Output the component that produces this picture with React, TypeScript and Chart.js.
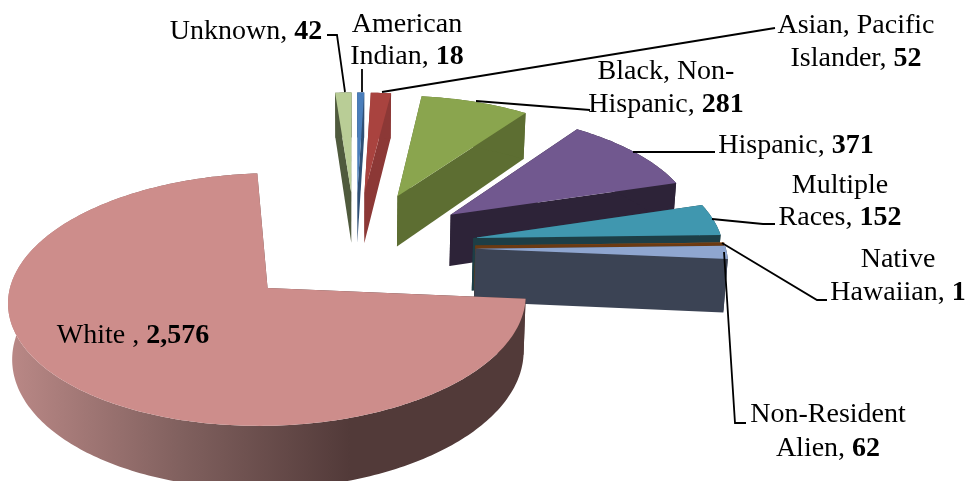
import React, { useEffect, useRef } from "react";
import { Chart, registerables } from "chart.js";

Chart.register(...registerables);

const categories = ["American Indian", "Asian, Pacific Islander", "Black, Non-Hispanic", "Hispanic", "Multiple Races", "Native Hawaiian", "Non-Resident Alien", "White", "Unknown"];
const values = [18, 52, 281, 371, 152, 1, 62, 2576, 42];
const topColors = ["#4A7EBB", "#A9433F", "#8AA54E", "#71588F", "#4097AF", "#C9702A", "#8FA6D0", "#CD8D8B", "#B9CD96"];
const sideColors = ["#2F4F75", "#8C3836", "#5D6E32", "#2D2338", "#1D3E46", "#6B3A12", "#3B4354", "#523A39", "#4F5A3D"];
const paintOrder = [8, 0, 1, 2, 3, 4, 5, 6, 7];

// text lines of each label; the value is appended in bold to the last line
const labelLines = [["American", "Indian, "], ["Asian, Pacific", "Islander, "], ["Black, Non-", "Hispanic, "], ["Hispanic, "], ["Multiple", "Races, "], ["Native", "Hawaiian, "], ["Non-Resident", "Alien, "], ["White , "], ["Unknown, "]];
const labelCenterX = [407, 856, 666, 796, 840, 898, 828, 133, 246];
const labelBaseY = [[32, 64], [33, 66], [79, 112], [153], [193, 225], [267, 300], [422, 456], [343], [39]];
const leaders: number[][][] = [
  [[362, 69], [362, 92]],
  [[382, 92], [775, 28]],
  [[476, 101], [590, 110]],
  [[633, 152], [715, 152]],
  [[712, 219], [763, 224], [775, 224]],
  [[722, 243], [817, 300], [827, 300]],
  [[724, 252], [735, 423], [746, 423]],
  [],
  [[327, 35], [337, 35], [345, 92]],
];

const FONT = '"Liberation Serif", "Times New Roman", serif';
const FONT_SIZE = 28;
const PIE = { x0: 355.5, y0: 247, a: 250, b: 118, persp: 0.088, depth: 53, depthPersp: 0.12, bottomShrink: 0.988, explode: 0.48 };

function project(mid: number, ang: number, r: number, bottom: boolean): [number, number] {
  const u = r * Math.sin(ang) + PIE.explode * Math.sin(mid);
  const v = r * Math.cos(ang) + PIE.explode * Math.cos(mid);
  const s = 1 / (1 + PIE.persp * v);
  const x = PIE.x0 + PIE.a * u * s * (bottom ? PIE.bottomShrink : 1);
  const y = PIE.y0 - PIE.b * v * s + (bottom ? PIE.depth / (1 + PIE.depthPersp * v) : 0);
  return [x, y];
}

function poly(ctx: CanvasRenderingContext2D, pts: [number, number][], fill: any) {
  ctx.beginPath();
  pts.forEach((p, i) => (i ? ctx.lineTo(p[0], p[1]) : ctx.moveTo(p[0], p[1])));
  ctx.closePath();
  ctx.fillStyle = fill;
  ctx.fill();
}

const pie3d = {
  id: "pie3d",
  beforeDatasetsDraw(chart: any) {
    const ctx: CanvasRenderingContext2D = chart.ctx;
    const arcs = chart.getDatasetMeta(0).data;
    for (const i of paintOrder) {
      const el = arcs[i];
      const a0 = el.startAngle + Math.PI / 2;
      const a1 = el.endAngle + Math.PI / 2;
      const mid = (a0 + a1) / 2;
      const n = Math.max(2, Math.ceil((a1 - a0) / (Math.PI / 180)));
      const arc = (bottom: boolean) => {
        const out: [number, number][] = [];
        for (let k = 0; k <= n; k++) out.push(project(mid, a0 + ((a1 - a0) * k) / n, 1, bottom));
        return out;
      };
      const top = arc(false);
      const bot = arc(true);
      const apexT = project(mid, mid, 0, false);
      const apexB = project(mid, mid, 0, true);
      let side: any = sideColors[i];
      if (values[i] > 1000) {
        const g = ctx.createLinearGradient(15, 0, 350, 0);
        g.addColorStop(0, "#B88785");
        g.addColorStop(0.5, "#80605E");
        g.addColorStop(1, sideColors[i]);
        side = g;
      }
      poly(ctx, [apexT, top[0], bot[0], apexB], side);
      poly(ctx, [apexT, top[n], bot[n], apexB], side);
      poly(ctx, [...top, ...[...bot].reverse()], side);
      poly(ctx, [apexT, ...top], topColors[i]);
    }
    return false;
  },
  afterDraw(chart: any) {
    const ctx: CanvasRenderingContext2D = chart.ctx;
    ctx.save();
    ctx.strokeStyle = "#000";
    ctx.lineWidth = 1.8;
    leaders.forEach((line) => {
      if (!line.length) return;
      ctx.beginPath();
      line.forEach((p, k) => (k ? ctx.lineTo(p[0], p[1]) : ctx.moveTo(p[0], p[1])));
      ctx.stroke();
    });
    ctx.fillStyle = "#000";
    ctx.textAlign = "left";
    ctx.textBaseline = "alphabetic";
    labelLines.forEach((lines, i) => {
      lines.forEach((text, k) => {
        const isLast = k === lines.length - 1;
        const val = isLast ? values[i].toLocaleString("en-US") : "";
        ctx.font = `${FONT_SIZE}px ${FONT}`;
        const w1 = ctx.measureText(text).width;
        ctx.font = `bold ${FONT_SIZE}px ${FONT}`;
        const w2 = val ? ctx.measureText(val).width : 0;
        const x = labelCenterX[i] - (w1 + w2) / 2;
        const y = labelBaseY[i][k];
        ctx.font = `${FONT_SIZE}px ${FONT}`;
        ctx.fillText(text, x, y);
        if (val) {
          ctx.font = `bold ${FONT_SIZE}px ${FONT}`;
          ctx.fillText(val, x + w1, y);
        }
      });
    });
    ctx.restore();
  },
};

export default function App() {
  const ref = useRef<HTMLCanvasElement>(null);
  useEffect(() => {
    const chart = new Chart(ref.current as HTMLCanvasElement, {
      type: "pie",
      data: { labels: categories, datasets: [{ data: values, backgroundColor: topColors, borderWidth: 0 }] },
      options: {
        responsive: false,
        animation: false,
        rotation: 0,
        plugins: { legend: { display: false }, tooltip: { enabled: false } },
      },
      plugins: [pie3d],
    } as any);
    return () => chart.destroy();
  }, []);
  return (
    <div style={{ position: "fixed", left: 0, top: 0, width: 968, height: 481, background: "#fff", overflow: "hidden" }}>
      <canvas ref={ref} width={968} height={481} style={{ display: "block" }} />
    </div>
  );
}
